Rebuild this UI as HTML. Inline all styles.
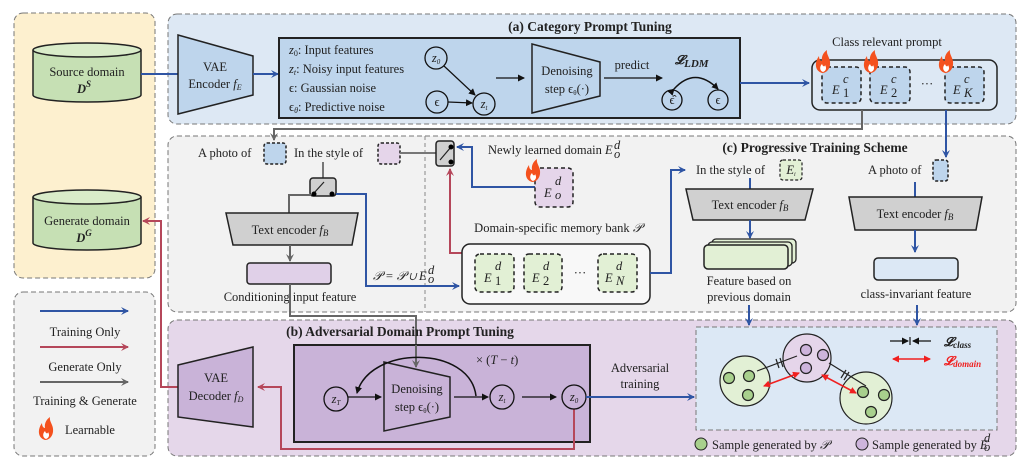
<!DOCTYPE html>
<html><head><meta charset="utf-8"><style>
body{margin:0;background:#fff}
svg{display:block;font-family:"Liberation Serif",serif}
text{fill:#222;font-size:12.5px}
.b{font-weight:bold;font-size:13.5px}
.i{font-style:italic}
</style></head><body>
<svg width="1024" height="464" viewBox="0 0 1024 464" xmlns="http://www.w3.org/2000/svg">
<defs>
<marker id="ab" markerWidth="8" markerHeight="8" refX="7" refY="4" orient="auto" markerUnits="userSpaceOnUse"><path d="M0,0 L8,4 L0,8 L3,4z" fill="#2f55a4"/></marker>
<marker id="ar" markerWidth="8" markerHeight="8" refX="7" refY="4" orient="auto" markerUnits="userSpaceOnUse"><path d="M0,0 L8,4 L0,8 L3,4z" fill="#b5475a"/></marker>
<marker id="ag" markerWidth="8" markerHeight="8" refX="7" refY="4" orient="auto" markerUnits="userSpaceOnUse"><path d="M0,0 L8,4 L0,8 L3,4z" fill="#666"/></marker>
<marker id="ak" markerWidth="7" markerHeight="7" refX="6" refY="3.5" orient="auto" markerUnits="userSpaceOnUse"><path d="M0,0 L7,3.5 L0,7z" fill="#111"/></marker>
<marker id="ae" markerWidth="7" markerHeight="7" refX="6" refY="3.5" orient="auto-start-reverse" markerUnits="userSpaceOnUse"><path d="M0,0 L7,3.5 L0,7z" fill="#f02020"/></marker>
<g id="fl"><path d="M0,14 C-7,12 -8,4 -3,-3 C-3,1 -1,2 0,2 C-1,-3 2,-7 5,-9 C4,-4 9,-1 8,6 C7,12 3,14 0,14z" fill="#f4511e"/><path d="M1,13 C-2,12 -3,8 0,5 C1,8 3,8 3,6 C5,9 4,12 1,13z" fill="#fff"/></g>
</defs>

<rect x="14" y="13" width="141" height="265" rx="9" fill="#fdf0cf" stroke="#777" stroke-dasharray="5,3"/>
<rect x="14" y="292" width="141" height="164" rx="9" fill="#f2f2f2" stroke="#777" stroke-dasharray="5,3"/>
<path d="M33,50 V95 A54,7 0 0 0 141,95 V50" fill="#c6e0b4" stroke="#222" stroke-width="1.5"/>
<ellipse cx="87" cy="50" rx="54" ry="7" fill="#d9ecc9" stroke="#222" stroke-width="1.5"/>
<text x="87" y="76" text-anchor="middle" font-size="13">Source domain</text>
<text x="84" y="93" text-anchor="middle" class="i" font-weight="bold" font-size="14">D<tspan font-size="9" dy="-6">S</tspan></text>
<path d="M33,197 V243 A54,7 0 0 0 141,243 V197" fill="#c6e0b4" stroke="#222" stroke-width="1.5"/>
<ellipse cx="87" cy="197" rx="54" ry="7" fill="#d9ecc9" stroke="#222" stroke-width="1.5"/>
<text x="87" y="225" text-anchor="middle" font-size="13">Generate domain</text>
<text x="84" y="242" text-anchor="middle" class="i" font-weight="bold" font-size="14">D<tspan font-size="9" dy="-6">G</tspan></text>
<line x1="40" y1="311" x2="128" y2="311" stroke="#2f55a4" stroke-width="2" marker-end="url(#ab)"/>
<text x="85" y="336" text-anchor="middle" font-size="13.5">Training Only</text>
<line x1="40" y1="347" x2="128" y2="347" stroke="#b5475a" stroke-width="2" marker-end="url(#ar)"/>
<text x="85" y="371" text-anchor="middle" font-size="13.5">Generate Only</text>
<line x1="40" y1="382" x2="128" y2="382" stroke="#666" stroke-width="2" marker-end="url(#ag)"/>
<text x="85" y="405" text-anchor="middle" font-size="13.5">Training &amp; Generate</text>
<use href="#fl" x="45" y="426"/>
<text x="65" y="434" font-size="13.5">Learnable</text>

<rect x="168" y="14" width="848" height="110" rx="9" fill="#dde8f4" stroke="#777" stroke-dasharray="5,3"/>
<text x="590" y="31" text-anchor="middle" class="b">(a) Category Prompt Tuning</text>
<line x1="141" y1="74" x2="178" y2="74" stroke="#2f55a4" stroke-width="2"/>
<polygon points="178,35 253,56 253,95 178,114" fill="#bed5ec" stroke="#222" stroke-width="1.5"/>
<text x="215" y="71" text-anchor="middle" font-size="13">VAE</text>
<text x="215" y="88" text-anchor="middle" font-size="13">Encoder <tspan class="i">f<tspan font-size="8" dy="2">E</tspan></tspan></text>
<line x1="253" y1="74" x2="278" y2="74" stroke="#2f55a4" stroke-width="2" marker-end="url(#ab)"/>
<rect x="279" y="38" width="461" height="80" fill="#bed5ec" stroke="#222" stroke-width="2"/>
<text x="289" y="54"><tspan class="i">z</tspan><tspan font-size="8" dy="2">0</tspan><tspan dy="-2">: Input features</tspan></text>
<text x="289" y="73"><tspan class="i">z</tspan><tspan font-size="8" dy="2" class="i">t</tspan><tspan dy="-2">: Noisy input features</tspan></text>
<text x="289" y="92">ϵ:   Gaussian noise</text>
<text x="289" y="111">ϵ<tspan font-size="8" dy="2" class="i">θ</tspan><tspan dy="-2">: Predictive noise</tspan></text>
<g fill="none" stroke="#111" stroke-width="1.3">
<circle cx="436" cy="58" r="11"/><circle cx="437" cy="102" r="11"/><circle cx="484" cy="104" r="11"/>
</g>
<text x="436" y="62" text-anchor="middle" class="i" font-size="11">z<tspan font-size="7" dy="2">0</tspan></text>
<text x="437" y="106" text-anchor="middle" font-size="11">ϵ</text>
<text x="484" y="108" text-anchor="middle" class="i" font-size="11">z<tspan font-size="7" dy="2">t</tspan></text>
<line x1="444" y1="66" x2="475" y2="95" stroke="#111" stroke-width="1.2" marker-end="url(#ak)"/>
<line x1="448" y1="102" x2="472" y2="103" stroke="#111" stroke-width="1.2" marker-end="url(#ak)"/>
<line x1="496" y1="78" x2="524" y2="78" stroke="#111" stroke-width="1.3" marker-end="url(#ak)"/>
<polygon points="532,44 600,62 600,96 532,113" fill="#bed5ec" stroke="#222" stroke-width="1.5"/>
<text x="567" y="75" text-anchor="middle" font-size="11.5">Denoising</text>
<text x="567" y="93" text-anchor="middle" font-size="11.5">step ϵ<tspan font-size="7" dy="2">θ</tspan><tspan dy="-2">(·)</tspan></text>
<text x="632" y="69" text-anchor="middle" font-size="13">predict</text>
<line x1="604" y1="78" x2="662" y2="78" stroke="#111" stroke-width="1.3" marker-end="url(#ak)"/>
<text x="675" y="64" class="i" font-weight="bold" font-size="17">𝓛<tspan font-size="11" dy="3">LDM</tspan></text>
<path d="M674,89 Q695,66 718,89" fill="none" stroke="#111" stroke-width="1.5" marker-start="url(#ak)" marker-end="url(#ak)"/>
<circle cx="672" cy="100" r="10" fill="none" stroke="#111" stroke-width="1.3"/>
<circle cx="718" cy="100" r="10" fill="none" stroke="#111" stroke-width="1.3"/>
<text x="672" y="104" text-anchor="middle" font-size="11">ϵ̂</text>
<text x="718" y="104" text-anchor="middle" font-size="11">ϵ</text>
<line x1="740" y1="83" x2="809" y2="83" stroke="#2f55a4" stroke-width="2" marker-end="url(#ab)"/>
<text x="887" y="46" text-anchor="middle" font-size="13">Class relevant prompt</text>
<rect x="812" y="60" width="185" height="50" rx="8" fill="#dde8f4" stroke="#222" stroke-width="1.5"/>
<g fill="#bed5ec" stroke="#222" stroke-width="1.5" stroke-dasharray="4,3">
<rect x="822" y="67" width="39" height="36" rx="5"/><rect x="870" y="67" width="40" height="36" rx="5"/><rect x="945" y="67" width="39" height="36" rx="5"/>
</g>
<text x="832" y="94" class="i" font-size="18">E</text><text x="843" y="83" class="i" font-size="12">c</text><text x="843" y="97" font-size="12">1</text>
<text x="880" y="94" class="i" font-size="18">E</text><text x="891" y="83" class="i" font-size="12">c</text><text x="891" y="97" font-size="12">2</text>
<text x="927" y="88" text-anchor="middle">···</text>
<text x="953" y="94" class="i" font-size="18">E</text><text x="964" y="83" class="i" font-size="12">c</text><text x="964" y="97" class="i" font-size="12">K</text>
<use href="#fl" x="822" y="59"/><use href="#fl" x="870" y="59"/><use href="#fl" x="945" y="59"/>

<rect x="168" y="136" width="848" height="176" rx="9" fill="#f2f2f2" stroke="#777" stroke-dasharray="5,3"/>
<line x1="425" y1="136" x2="425" y2="312" stroke="#888" stroke-dasharray="4,3"/>
<polyline points="862,110 862,129 274,129 274,140" fill="none" stroke="#666" stroke-width="2" marker-end="url(#ag)"/>
<polyline points="946,110 946,157" fill="none" stroke="#2f55a4" stroke-width="2" marker-end="url(#ab)"/>
<text x="198" y="157" font-size="13">A photo of</text>
<rect x="264" y="143" width="22" height="21" rx="3" fill="#bed5ec" stroke="#222" stroke-width="1.5" stroke-dasharray="3,2"/>
<text x="294" y="157" font-size="13">In the style of</text>
<rect x="378" y="143" width="22" height="21" rx="3" fill="#e5d5ea" stroke="#222" stroke-width="1.5" stroke-dasharray="3,2"/>
<line x1="400" y1="153" x2="437" y2="153" stroke="#777" stroke-width="2"/>
<rect x="436" y="141" width="18" height="25" rx="3" fill="#d0d0d0" stroke="#222" stroke-width="1.5"/>
<line x1="440" y1="160" x2="451" y2="147" stroke="#222" stroke-width="1.2"/>
<circle cx="451" cy="147" r="2.5" fill="#000"/><circle cx="451" cy="162" r="2.5" fill="#000"/>
<polyline points="535,187 472,187 472,147 457,147" fill="none" stroke="#2f55a4" stroke-width="2" marker-end="url(#ab)"/>
<polyline points="462,253 450,253 450,169" fill="none" stroke="#b5475a" stroke-width="2" marker-end="url(#ar)"/>
<text x="488" y="154" font-size="13.5">Newly learned domain <tspan class="i">E</tspan></text>
<text x="614" y="149" class="i" font-size="9">d</text><text x="614" y="158" class="i" font-size="9">o</text>
<rect x="535" y="168" width="38" height="39" rx="5" fill="#e5d5ea" stroke="#222" stroke-width="1.5" stroke-dasharray="4,3"/>
<text x="544" y="197" class="i" font-size="18">E</text><text x="555" y="185" class="i" font-size="12">d</text><text x="555" y="199" class="i" font-size="12">o</text>
<use href="#fl" x="532" y="168"/>
<line x1="323" y1="162" x2="323" y2="178" stroke="#777" stroke-width="2"/>
<rect x="310" y="178" width="26" height="18" rx="3" fill="#d0d0d0" stroke="#222" stroke-width="1.5"/>
<line x1="314" y1="193" x2="324" y2="182" stroke="#222" stroke-width="1.2"/>
<circle cx="314" cy="194" r="2.5" fill="#000"/><circle cx="332" cy="194" r="2.5" fill="#000"/>
<polyline points="311,195 289,195 289,213" fill="none" stroke="#666" stroke-width="2"/>
<polyline points="336,194 366,194 366,286 459,286" fill="none" stroke="#2f55a4" stroke-width="2" marker-end="url(#ab)"/>
<polygon points="226,213 358,213 352,245 233,245" fill="#d0d0d0" stroke="#222" stroke-width="1.5"/>
<text x="290" y="234" text-anchor="middle" font-size="13.5">Text encoder <tspan class="i">f<tspan font-size="9" dy="2">B</tspan></tspan></text>
<line x1="290" y1="245" x2="290" y2="261" stroke="#666" stroke-width="2" marker-end="url(#ag)"/>
<rect x="247" y="263" width="84" height="21" rx="3" fill="#e0d0e8" stroke="#222" stroke-width="1.5"/>
<text x="290" y="301" text-anchor="middle" font-size="13">Conditioning input feature</text>
<polyline points="290,284 290,316 416,316 416,367" fill="none" stroke="#666" stroke-width="2" marker-end="url(#ag)"/>
<text x="373" y="280" class="i" font-size="12.5">𝒫 = 𝒫 ∪ E</text>
<text x="428" y="274" class="i" font-size="8">d</text><text x="428" y="283" class="i" font-size="8">o</text>
<text x="558" y="232" text-anchor="middle" font-size="13.5">Domain-specific memory bank <tspan class="i">𝒫</tspan></text>
<rect x="462" y="244" width="188" height="60" rx="8" fill="#f8f8f8" stroke="#222" stroke-width="1.5"/>
<g fill="#e2f0d5" stroke="#222" stroke-width="1.5" stroke-dasharray="4,3">
<rect x="475" y="254" width="39" height="38" rx="5"/><rect x="524" y="254" width="38" height="38" rx="5"/><rect x="598" y="254" width="39" height="38" rx="5"/>
</g>
<text x="484" y="282" class="i" font-size="18">E</text><text x="495" y="270" class="i" font-size="12">d</text><text x="495" y="285" font-size="12">1</text>
<text x="532" y="282" class="i" font-size="18">E</text><text x="543" y="270" class="i" font-size="12">d</text><text x="543" y="285" font-size="12">2</text>
<text x="580" y="277" text-anchor="middle">···</text>
<text x="605" y="282" class="i" font-size="18">E</text><text x="616" y="270" class="i" font-size="12">d</text><text x="616" y="285" class="i" font-size="12">N</text>
<polyline points="650,273 671,273 671,170 685,170" fill="none" stroke="#2f55a4" stroke-width="2" marker-end="url(#ab)"/>
<text x="815" y="152" text-anchor="middle" class="b">(c) Progressive Training Scheme</text>
<text x="696" y="174" font-size="13">In the style of</text>
<rect x="780" y="160" width="22" height="20" rx="3" fill="#e2f0d5" stroke="#222" stroke-width="1.2" stroke-dasharray="3,2"/>
<text x="791" y="174" text-anchor="middle" class="i" font-size="9">E<tspan font-size="6" dy="2">i</tspan></text>
<line x1="750" y1="178" x2="750" y2="189" stroke="#2f55a4" stroke-width="2"/>
<polygon points="686,189 813,189 805,220 693,220" fill="#d0d0d0" stroke="#222" stroke-width="1.5"/>
<text x="750" y="209" text-anchor="middle" font-size="13.5">Text encoder <tspan class="i">f<tspan font-size="9" dy="2">B</tspan></tspan></text>
<line x1="750" y1="220" x2="750" y2="238" stroke="#2f55a4" stroke-width="2" marker-end="url(#ab)"/>
<rect x="712" y="239" width="84" height="24" rx="4" fill="#e2f0d5" stroke="#222" stroke-width="1.3"/>
<rect x="708" y="242" width="84" height="24" rx="4" fill="#e2f0d5" stroke="#222" stroke-width="1.3"/>
<rect x="704" y="245" width="84" height="24" rx="4" fill="#e2f0d5" stroke="#222" stroke-width="1.5"/>
<text x="749" y="285" text-anchor="middle" font-size="13">Feature based on</text>
<text x="749" y="301" text-anchor="middle" font-size="13">previous domain</text>
<text x="868" y="174" font-size="13">A photo of</text>
<rect x="933" y="160" width="15" height="21" rx="3" fill="#bed5ec" stroke="#222" stroke-width="1.5" stroke-dasharray="3,2"/>
<line x1="915" y1="182" x2="915" y2="197" stroke="#2f55a4" stroke-width="2"/>
<polygon points="849,197 982,197 976,230 855,230" fill="#d0d0d0" stroke="#222" stroke-width="1.5"/>
<text x="915" y="218" text-anchor="middle" font-size="13.5">Text encoder <tspan class="i">f<tspan font-size="9" dy="2">B</tspan></tspan></text>
<line x1="915" y1="230" x2="915" y2="252" stroke="#2f55a4" stroke-width="2" marker-end="url(#ab)"/>
<rect x="874" y="258" width="84" height="22" rx="4" fill="#dce8f5" stroke="#222" stroke-width="1.5"/>
<text x="916" y="298" text-anchor="middle" font-size="13">class-invariant feature</text>

<rect x="168" y="320" width="848" height="136" rx="9" fill="#e5d7ea" stroke="#777" stroke-dasharray="5,3"/>
<line x1="749" y1="305" x2="749" y2="325" stroke="#2f55a4" stroke-width="2" marker-end="url(#ab)"/>
<line x1="917" y1="305" x2="917" y2="325" stroke="#2f55a4" stroke-width="2" marker-end="url(#ab)"/>
<polyline points="416,316 416,367" fill="none" stroke="#666" stroke-width="2"/>
<text x="400" y="336" text-anchor="middle" class="b">(b) Adversarial Domain Prompt Tuning</text>
<polyline points="178,387 161,387 161,221 143,221" fill="none" stroke="#b5475a" stroke-width="2" marker-end="url(#ar)"/>
<polygon points="178,365 253,347 253,427 178,417" fill="#c9b3d8" stroke="#222" stroke-width="1.5"/>
<text x="216" y="382" text-anchor="middle" font-size="13">VAE</text>
<text x="216" y="400" text-anchor="middle" font-size="13">Decoder <tspan class="i">f<tspan font-size="8" dy="2">D</tspan></tspan></text>
<rect x="294" y="345" width="296" height="97" fill="#c9b3d8" stroke="#222" stroke-width="2"/>
<polyline points="416,345 416,367" fill="none" stroke="#666" stroke-width="2" marker-end="url(#ag)"/>
<polyline points="574,409 574,449 281,449 281,387 258,387" fill="none" stroke="#b5475a" stroke-width="2" marker-end="url(#ar)"/>
<circle cx="336" cy="399" r="12" fill="none" stroke="#111" stroke-width="1.3"/>
<text x="336" y="403" text-anchor="middle" class="i" font-size="11">z<tspan font-size="7" dy="2">T</tspan></text>
<line x1="348" y1="397" x2="381" y2="397" stroke="#111" stroke-width="1.3" marker-end="url(#ak)"/>
<polygon points="384,362 450,377 450,417 384,431" fill="#c9b3d8" stroke="#222" stroke-width="1.5"/>
<text x="417" y="393" text-anchor="middle" font-size="11.5">Denoising</text>
<text x="417" y="411" text-anchor="middle" font-size="11.5">step ϵ<tspan font-size="7" dy="2">θ</tspan><tspan dy="-2">(·)</tspan></text>
<line x1="454" y1="397" x2="488" y2="397" stroke="#111" stroke-width="1.3" marker-end="url(#ak)"/>
<path d="M476,396 C470,345 370,345 357,393" fill="none" stroke="#111" stroke-width="1.5" marker-end="url(#ak)"/>
<text x="476" y="364" font-size="13.5">× (<tspan class="i">T</tspan> − <tspan class="i">t</tspan>)</text>
<circle cx="502" cy="397" r="12" fill="none" stroke="#111" stroke-width="1.3"/>
<text x="502" y="401" text-anchor="middle" class="i" font-size="11">z<tspan font-size="7" dy="2">t</tspan></text>
<line x1="522" y1="397" x2="556" y2="397" stroke="#111" stroke-width="1.3" marker-end="url(#ak)"/>
<circle cx="574" cy="397" r="12" fill="none" stroke="#111" stroke-width="1.3"/>
<text x="574" y="401" text-anchor="middle" class="i" font-size="11">z<tspan font-size="7" dy="2">0</tspan></text>
<line x1="586" y1="397" x2="694" y2="397" stroke="#2f55a4" stroke-width="2" marker-end="url(#ab)"/>
<text x="640" y="372" text-anchor="middle" font-size="13">Adversarial</text>
<text x="640" y="388" text-anchor="middle" font-size="13">training</text>
<rect x="696" y="327" width="301" height="103" fill="#dce8f5" stroke="#777" stroke-dasharray="5,3"/>
<g stroke="#222" stroke-width="1.2">
<circle cx="745" cy="381" r="25" fill="#e2f0d5"/>
<circle cx="807" cy="358" r="24" fill="#e5d5ea"/>
<circle cx="866" cy="398" r="26" fill="#e2f0d5"/>
<g fill="#a8d08d"><circle cx="729" cy="378" r="5.5"/><circle cx="749" cy="376" r="5.5"/><circle cx="748" cy="395" r="5.5"/>
<circle cx="863" cy="392" r="5.5"/><circle cx="884" cy="395" r="5.5"/><circle cx="871" cy="412" r="5.5"/></g>
<g fill="#cdb4dc"><circle cx="806" cy="350" r="5.5"/><circle cx="823" cy="355" r="5.5"/><circle cx="806" cy="368" r="5.5"/></g>
<line x1="757" y1="371" x2="797" y2="356"/><line x1="776" y1="359" x2="779" y2="368"/><line x1="780" y1="358" x2="783" y2="367"/>
<line x1="829" y1="363" x2="866" y2="386"/><line x1="846" y1="370" x2="841" y2="378"/><line x1="849" y1="372" x2="844" y2="380"/>
</g>
<line x1="764" y1="386" x2="799" y2="373" stroke="#f02020" stroke-width="1.6" marker-start="url(#ae)" marker-end="url(#ae)"/>
<line x1="822" y1="375" x2="856" y2="393" stroke="#f02020" stroke-width="1.6" marker-start="url(#ae)" marker-end="url(#ae)"/>
<line x1="890" y1="341" x2="908" y2="341" stroke="#111" stroke-width="1.2" marker-end="url(#ak)"/>
<line x1="931" y1="341" x2="913" y2="341" stroke="#111" stroke-width="1.2" marker-end="url(#ak)"/>
<line x1="910" y1="337" x2="910" y2="345" stroke="#111" stroke-width="1.2"/>
<text x="944" y="346" class="i" font-weight="bold" font-size="13">𝓛<tspan font-size="9" dy="2">class</tspan></text>
<line x1="893" y1="359" x2="930" y2="359" stroke="#f02020" stroke-width="1.6" marker-start="url(#ae)" marker-end="url(#ae)"/>
<text x="944" y="365" class="i" font-weight="bold" font-size="13" style="fill:#f02020">𝓛<tspan font-size="9" dy="2" style="fill:#f02020">domain</tspan></text>
<circle cx="701" cy="444" r="6" fill="#a8d08d" stroke="#222"/>
<text x="712" y="449" font-size="12.5">Sample generated by <tspan class="i">𝒫</tspan></text>
<circle cx="862" cy="444" r="6" fill="#cdb4dc" stroke="#222"/>
<text x="872" y="449" font-size="12.5">Sample generated by <tspan class="i">E</tspan></text>
<text x="984" y="442" class="i" font-size="8">d</text><text x="984" y="451" class="i" font-size="8">o</text>
</svg>
</body></html>
